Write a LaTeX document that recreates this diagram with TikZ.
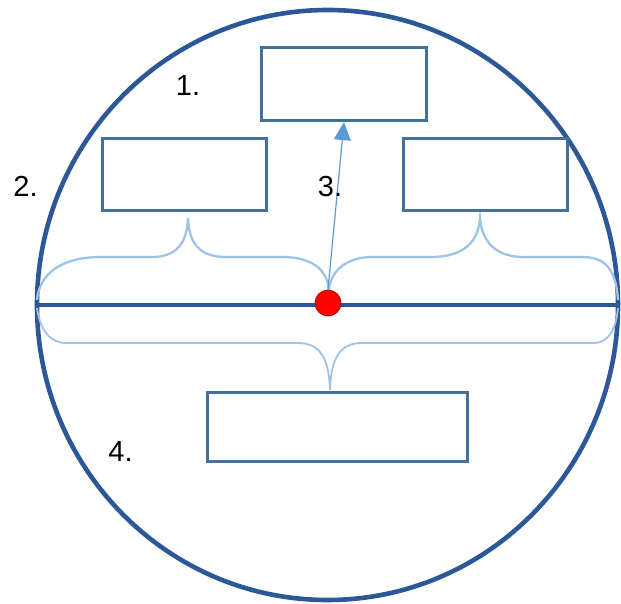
\documentclass[tikz,border=0pt]{standalone}
\usepackage{fontspec}
\setmainfont{Liberation Sans}
\usetikzlibrary{arrows.meta}
\definecolor{ringblue}{RGB}{44,88,152}
\definecolor{boxblue}{RGB}{65,113,156}
\definecolor{bracecol}{RGB}{157,195,230}
\definecolor{arrowcol}{RGB}{91,155,213}
\definecolor{dotedge}{RGB}{190,0,0}
\tikzset{
  ring/.style={draw=ringblue, line width=4.6pt},
  boxnode/.style={draw=boxblue, line width=3.2pt, fill=white, inner sep=0pt},
  bracestyle/.style={draw=bracecol, line width=2.3pt},
  arrowstyle/.style={draw=arrowcol, line width=1.2pt, -{Triangle[width=17pt,length=18pt]}},
  labelnode/.style={inner sep=0pt, font=\fontsize{29}{34}\selectfont, text=black},
}
\begin{document}
\begin{tikzpicture}[x=1pt,y=-1pt]
\useasboundingbox (0,0) rectangle (621,604);
% outer ring
\draw[ring] (327.5,305) ellipse [x radius=290.5, y radius=295];
% braces
\draw[bracestyle] (37,300) .. controls (40,268) and (70,257) .. (100,257) -- (152,257)
   .. controls (176,257) and (187,244) .. (188,218)
   .. controls (189,244) and (200,257) .. (226,257) -- (282,257)
   .. controls (310,257) and (327,268) .. (329,290);
\draw[bracestyle] (329,290) .. controls (331,268) and (350,257) .. (372,257) -- (430,257)
   .. controls (462,257) and (478,244) .. (480,218)
   .. controls (482,244) and (498,257) .. (524,257) -- (582,257)
   .. controls (606,257) and (616,270) .. (618,300);
\draw[bracestyle, line width=1.8pt] (37,308) .. controls (40,330) and (50,343) .. (66,343) -- (298,343)
   .. controls (320,343) and (329,358) .. (330,390)
   .. controls (331,358) and (340,343) .. (362,343) -- (594,343)
   .. controls (608,343) and (616,330) .. (618,308);
% horizontal line
\draw[ring] (37,305) -- (618,305);
% boxes
\node[boxnode, minimum width=165pt, minimum height=73pt] (top) at (344,84) {};
\node[boxnode, minimum width=164pt, minimum height=72pt] (left) at (184.5,174.5) {};
\node[boxnode, minimum width=164pt, minimum height=72pt] (right) at (485.5,174.5) {};
\node[boxnode, minimum width=260pt, minimum height=69pt] (bottom) at (337.5,427) {};
% dot
\node[circle, fill=red, draw=dotedge, line width=0.8pt, minimum size=26pt, inner sep=0pt] (dot) at (328,303) {};
% arrow
\draw[arrowstyle] (dot.north) -- (top.south);
% labels
\node[labelnode] (l1) at (188,86) {1.};
\node[labelnode] (l2) at (25.5,186) {2.};
\node[labelnode] (l3) at (330,187) {3.};
\node[labelnode] (l4) at (120.5,452) {4.};
\end{tikzpicture}
\end{document}
